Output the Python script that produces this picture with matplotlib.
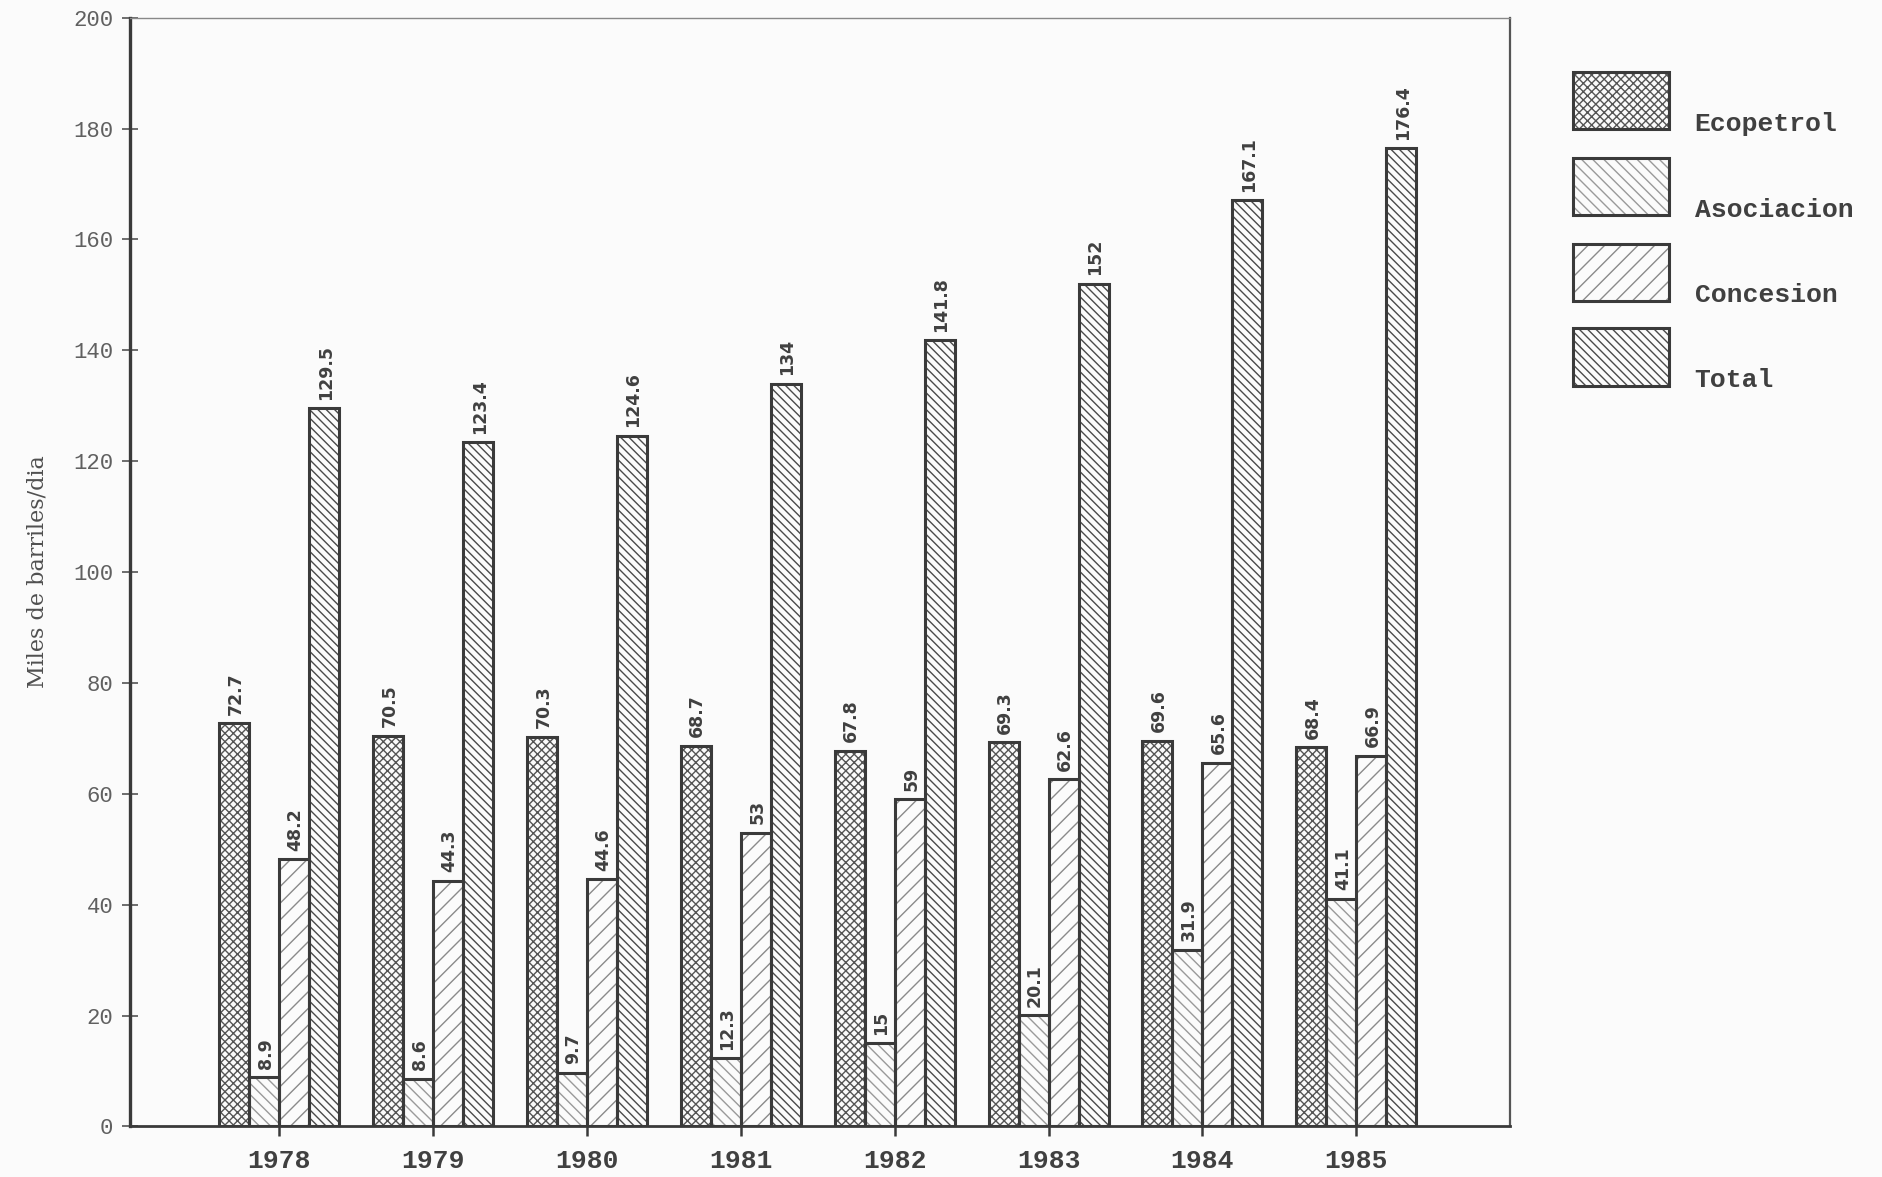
import matplotlib.pyplot as plt
import matplotlib.patches as mpatches
import numpy as np

years = ['1978', '1979', '1980', '1981', '1982', '1983', '1984', '1985']
ecopetrol = [72.7, 70.5, 70.3, 68.7, 67.8, 69.3, 69.6, 68.4]
asociacion = [8.9, 8.6, 9.7, 12.3, 15, 20.1, 31.9, 41.1]
concesion = [48.2, 44.3, 44.6, 53, 59, 62.6, 65.6, 66.9]
total = [129.5, 123.4, 124.6, 134, 141.8, 152, 167.1, 176.4]

series = [('Ecopetrol', ecopetrol, 'xxxx', '#555555'),
          ('Asociacion', asociacion, '\\\\\\', '#9a9a9a'),
          ('Concesion', concesion, '//', '#8a8a8a'),
          ('Total', total, '\\\\\\\\', '#4a4a4a')]

edge = '#3a3a3a'
txt = '#404040'
mono = 'Liberation Mono'
plt.rcParams['hatch.linewidth'] = 1.0

fig = plt.figure(figsize=(18.83, 11.77), dpi=100, facecolor='#fbfbfb')
ax = fig.add_axes([0.069, 0.043, 0.733, 0.942])
ax.set_facecolor('#fbfbfb')

x = np.arange(len(years))
w = 0.195
offsets = [-1.5 * w, -0.5 * w, 0.5 * w, 1.5 * w]
for (name, vals, hatch, hc), off in zip(series, offsets):
    ax.bar(x + off, vals, w, facecolor='none', edgecolor=hc, hatch=hatch, linewidth=0)
    ax.bar(x + off, vals, w, facecolor='none', edgecolor=edge, linewidth=2.2)
    for xi, v in zip(x + off, vals):
        ax.text(xi + 0.01, v + 1.5, f'{v:g}', rotation=90, ha='center', va='bottom',
                fontsize=12.5, fontweight='bold', color=txt, family='DejaVu Sans')

ax.set_xlim(-0.97, 8.0)
ax.set_ylim(0, 200)
ax.set_yticks(range(0, 201, 20))
ax.set_xticks(x)
ax.set_xticklabels(years, family=mono, fontweight='bold', fontsize=19, color=txt)
for lab in ax.get_yticklabels():
    lab.set_family(mono)
    lab.set_fontsize(16)
    lab.set_color('#606060')
ax.tick_params(axis='y', direction='inout', length=12, width=1.2, color='#555555', pad=6)
ax.tick_params(axis='x', direction='inout', length=14, width=1.8, color=edge, pad=9)

ax.spines['left'].set_linewidth(2.4)
ax.spines['left'].set_color(edge)
ax.spines['bottom'].set_linewidth(2.0)
ax.spines['bottom'].set_color(edge)
ax.spines['right'].set_linewidth(1.6)
ax.spines['right'].set_color('#555555')
ax.spines['top'].set_linewidth(1.0)
ax.spines['top'].set_color('#888888')

ax.set_ylabel('Miles de barriles/dia', family='DejaVu Serif', fontsize=16,
              color='#505050', labelpad=18)

# legend drawn as boxes to the right of the plot
bx, bw, bh = 0.8355, 0.051, 0.049
tops = [0.939, 0.866, 0.793, 0.721]
for (name, vals, hatch, hc), top in zip(series, tops):
    fig.add_artist(mpatches.Rectangle((bx, top - bh), bw, bh, transform=fig.transFigure,
                                      facecolor='none', edgecolor=hc, hatch=hatch, linewidth=0))
    fig.add_artist(mpatches.Rectangle((bx, top - bh), bw, bh, transform=fig.transFigure,
                                      facecolor='none', edgecolor=edge, linewidth=2.2))
    fig.text(0.9, top - bh + 0.005, name, family=mono, fontweight='bold', fontsize=19,
             color=txt, ha='left', va='center')

fig.savefig('out.png', dpi=100, facecolor=fig.get_facecolor())
